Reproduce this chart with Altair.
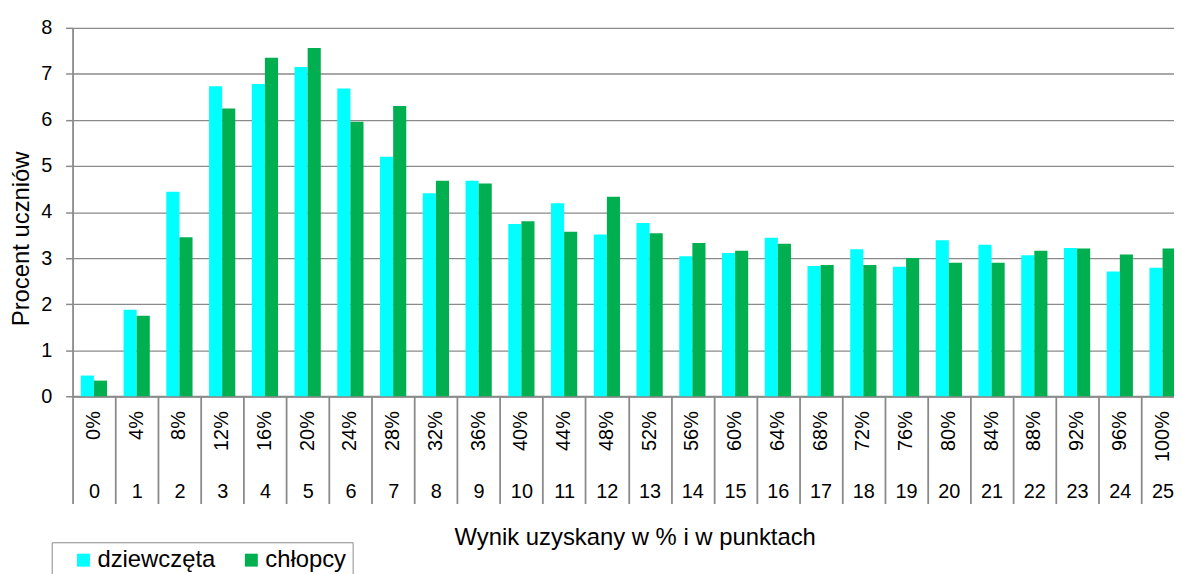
import altair as alt
import pandas as pd

punkty = ["0", "1", "2", "3", "4", "5", "6", "7", "8", "9", "10", "11", "12",
          "13", "14", "15", "16", "17", "18", "19", "20", "21", "22", "23", "24", "25"]
procenty = ["0%", "4%", "8%", "12%", "16%", "20%", "24%", "28%", "32%", "36%", "40%",
            "44%", "48%", "52%", "56%", "60%", "64%", "68%", "72%", "76%", "80%",
            "84%", "88%", "92%", "96%", "100%"]
plec = ["dziewczęta", "chłopcy"]
kolory = ["#00FFFF", "#00B050"]

dziewczeta = [0.45, 1.88, 4.44, 6.73, 6.78, 7.15, 6.68, 5.20, 4.41, 4.68, 3.74, 4.19, 3.51,
              3.76, 3.04, 3.11, 3.44, 2.83, 3.19, 2.81, 3.39, 3.29, 3.06, 3.22, 2.71, 2.79]
chlopcy = [0.34, 1.75, 3.45, 6.25, 7.35, 7.56, 5.96, 6.30, 4.68, 4.62, 3.80, 3.57, 4.33,
           3.54, 3.33, 3.16, 3.31, 2.85, 2.85, 3.00, 2.90, 2.90, 3.16, 3.21, 3.08, 3.21]

rows = []
for p, d, c in zip(punkty, dziewczeta, chlopcy):
    rows.append({"pkt": p, "plec": plec[0], "wartosc": d})
    rows.append({"pkt": p, "plec": plec[1], "wartosc": c})
df = pd.DataFrame(rows)
df_cat = pd.DataFrame({"pkt": punkty, "proc": procenty})

GRAY = "#8a8a8a"
FONT = "Liberation Sans"
XTITLE = "Wynik uzyskany w % i w punktach"

bars = alt.Chart(df).mark_bar().encode(
    x=alt.X(
        "pkt:N", sort=punkty, title=XTITLE,
        scale=alt.Scale(paddingInner=0, paddingOuter=0),
        axis=alt.Axis(
            labelAngle=0, labelFontSize=20, labelColor="black", labelPadding=-6,
            labelBaseline="alphabetic", labelOverlap=False,
            tickBand="extent", tickSize=108, tickColor=GRAY, tickWidth=1.8,
            domainColor=GRAY, domainWidth=2, grid=False,
            titleFontSize=24, titleFontWeight="normal", titleColor="black",
            titleX=566, titleY=149, titleBaseline="alphabetic", titleAlign="center",
        ),
    ),
    xOffset=alt.XOffset("plec:N", sort=plec,
                        scale=alt.Scale(paddingInner=0, paddingOuter=0.63)),
    y=alt.Y(
        "wartosc:Q", title="Procent uczniów",
        scale=alt.Scale(domain=[0, 8]),
        axis=alt.Axis(
            values=[0, 1, 2, 3, 4, 5, 6, 7, 8], labelFontSize=20, labelColor="black",
            labelPadding=14, tickSize=7, tickColor=GRAY, tickWidth=1.5,
            domainColor=GRAY, domainWidth=1.8,
            grid=True, gridColor=GRAY, gridWidth=1.3,
            titleFontSize=24, titleFontWeight="normal", titleColor="black",
            titleX=-44, titleY=212, titleAngle=270, titleBaseline="alphabetic",
            titleAlign="center",
        ),
    ),
    color=alt.Color(
        "plec:N", sort=plec,
        scale=alt.Scale(domain=plec, range=kolory),
        legend=alt.Legend(
            title=None, orient="none", legendX=-21, legendY=518,
            direction="horizontal", strokeColor=GRAY, padding=6,
            symbolType="square", symbolSize=169, symbolStrokeWidth=0,
            symbolOffset=14, labelOffset=2, columnPadding=10,
            labelFontSize=24, labelColor="black", labelFont=FONT,
        ),
    ),
)

labels = alt.Chart(df_cat).mark_text(
    angle=270, align="right", baseline="middle", fontSize=20, color="black", font=FONT
).encode(
    x=alt.X("pkt:N", sort=punkty, title=XTITLE),
    y=alt.value(386),
    text="proc:N",
)

chart = alt.layer(bars, labels).properties(
    width=1119, height=371,
    autosize=alt.AutoSizeParams(type="none"),
    padding={"left": 65, "top": 18, "right": -10, "bottom": 177},
).configure(font=FONT).configure_view(strokeWidth=0)

chart.save("out.html", embed_options={"renderer": "svg", "actions": False})
